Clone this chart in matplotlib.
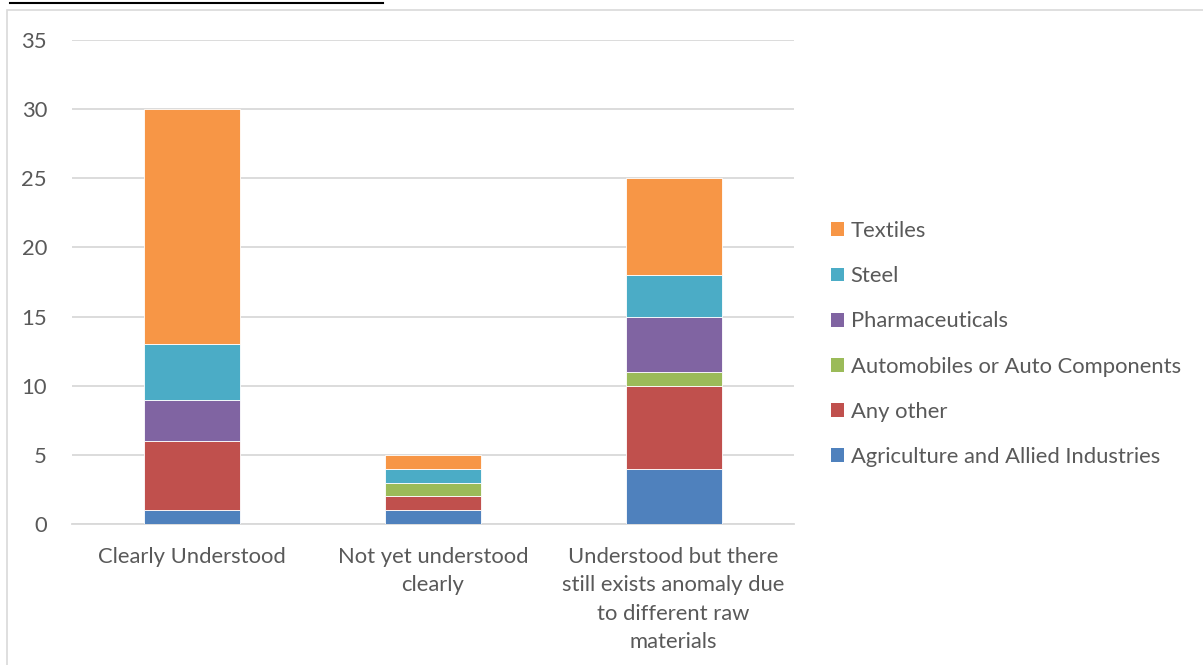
import matplotlib.pyplot as plt
from matplotlib.patches import Rectangle, Patch
from matplotlib.lines import Line2D

plt.rcParams['font.family'] = ['Lato', 'DejaVu Sans']

categories = ["Clearly Understood",
              "Not yet understood\nclearly",
              "Understood but there\nstill exists anomaly due\nto different raw\nmaterials"]
series_names = ["Agriculture and Allied Industries", "Any other",
                "Automobiles or Auto Components", "Pharmaceuticals",
                "Steel", "Textiles"]
agriculture = [1, 1, 4]
any_other = [5, 1, 6]
automobiles = [0, 1, 1]
pharma = [3, 0, 4]
steel = [4, 1, 3]
textiles = [17, 1, 7]
colors = ["#4F81BD", "#C0504D", "#9BBB59", "#8064A2", "#4BACC6", "#F79646"]

series = [agriculture, any_other, automobiles, pharma, steel, textiles]

fig = plt.figure(figsize=(12.03, 6.65), dpi=100)
W, H = 1203, 665
FS = 15.8

# outer chart frame and the cut-off heading underline
fig.add_artist(Rectangle((7 / W, -0.05), 1.2, 1 - 10 / H + 0.05, transform=fig.transFigure,
                         fill=False, edgecolor="#D9D9D9", linewidth=1.2))
fig.add_artist(Line2D([10 / W, 383 / W], [1 - 3 / H, 1 - 3 / H], transform=fig.transFigure,
                      color="black", linewidth=1.5))

ax = fig.add_axes([72 / W, 1 - 524 / H, (794 - 72) / W, (524 - 40) / H])

x = list(range(len(categories)))
bottom = [0] * len(categories)
for name, vals, c in zip(series_names, series, colors):
    ax.bar(x, vals, width=0.4, bottom=bottom, color=c, edgecolor="white",
           linewidth=0.6, label=name, zorder=3)
    bottom = [b + v for b, v in zip(bottom, vals)]

ax.set_xlim(-0.5, 2.5)
ax.set_ylim(0, 35)
ax.set_yticks(range(0, 36, 5))
ax.grid(axis="y", color="#D9D9D9", linewidth=1.3, zorder=0)
for s in ["top", "right", "left"]:
    ax.spines[s].set_visible(False)
ax.spines["bottom"].set_color("#D9D9D9")
ax.spines["bottom"].set_linewidth(1.3)
ax.tick_params(axis="both", length=0, labelsize=FS, labelcolor="#595959")
ax.tick_params(axis="y", pad=18)
ax.tick_params(axis="x", pad=16.5)
ax.set_xticks(x)
ax.set_xticklabels(categories, linespacing=1.52)

handles = [Patch(facecolor=c, edgecolor="none") for c in colors][::-1]
fig.legend(handles, series_names[::-1], loc="upper left",
           bbox_to_anchor=(831 / W, 1 - 221 / H), frameon=False,
           fontsize=FS, labelcolor="#595959", handlelength=0.6, handleheight=0.6,
           handletextpad=0.3, labelspacing=1.15, borderpad=0, borderaxespad=0)

fig.savefig("out.png", dpi=100)
